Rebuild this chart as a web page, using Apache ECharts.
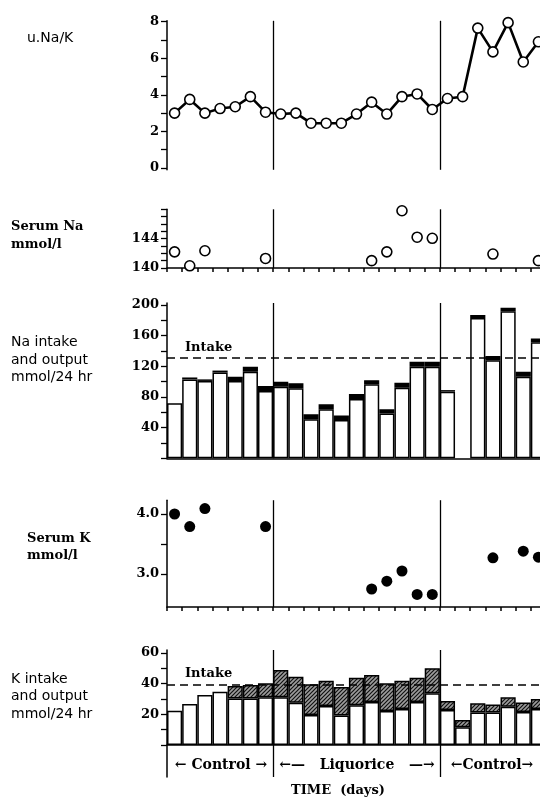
<!DOCTYPE html>
<html>
<head>
<meta charset="utf-8">
<script src="https://cdn.jsdelivr.net/npm/echarts@6/dist/echarts.min.js"></script>
<style>
  html, body { margin: 0; padding: 0; background: #fff; overflow: hidden; }
  /* a little wider than the window: the last day runs off the right edge */
  #main { width: 548px; height: 798px; }
</style>
</head>
<body>
<div id="main"></div>
<script>
  // 25 days: 7 control, 11 liquorice, 7 control (last one runs off the edge)
  var days = ['1', '2', '3', '4', '5', '6', '7', '8', '9', '10', '11', '12', '13',
    '14', '15', '16', '17', '18', '19', '20', '21', '22', '23', '24', '25']
  var periodEnds = [7, 18]
  var periods = ['Control', 'Liquorice', 'Control']

  // urine Na/K ratio
  var naKRatio = [3.0, 3.75, 3.0, 3.25, 3.35, 3.9, 3.05, 2.95, 3.0, 2.45, 2.45, 2.45, 2.95,
    3.6, 2.95, 3.9, 4.05, 3.2, 3.8, 3.9, 7.65, 6.35, 7.95, 5.8, 6.9]

  // serum Na, mmol/l  [day index, value]
  var serumNa = [[0, 142.2], [1, 140.3], [2, 142.35], [6, 141.3], [13, 141.0], [14, 142.2],
    [15, 147.8], [16, 144.2], [17, 144.05], [21, 141.9], [23, 139.8], [24, 141.0]]

  // Na output, mmol/24hr : urine (white) + other (black cap)
  var naUrine = [72, 103, 101, 112, 101, 113, 88, 93.5, 91.5, 51, 64, 50, 77.5,
    96.5, 58.5, 92, 119.5, 119.5, 87, '-', 183, 128, 192, 106.5, 151.5]
  var naOther = ['-', 2.5, 2, 2.5, 5.5, 6.5, 6.5, 6.5, 6.5, 6.5, 6.5, 6, 6.5,
    5.5, 5.5, 6.5, 6.5, 6.5, 2, '-', 4, 5.5, 4.5, 6.5, 5]
  var naIntake = 131

  // serum K, mmol/l  [day index, value]
  var serumK = [[0, 4.0], [1, 3.79], [2, 4.09], [6, 3.79], [13, 2.75], [14, 2.88],
    [15, 3.05], [16, 2.66], [17, 2.66], [21, 3.27], [23, 3.38], [24, 3.28]]

  // K output, mmol/24hr : urine (white) + other (hatched)
  var kUrine = [22.3, 26.7, 32.5, 34.7, 30.3, 30.3, 31, 31, 27.5, 19.5, 25.4, 19.2, 25.8,
    28, 22.1, 23.4, 28, 33.6, 22.8, 11.5, 21.2, 21.2, 24.9, 21.5, 23.4]
  var kOther = ['-', '-', '-', '-', 8.1, 8.7, 9.1, 17.8, 16.9, 20, 16.4, 18.5, 18,
    17.5, 18, 18.4, 15.8, 16.4, 5.8, 4.8, 5.9, 5.2, 6.1, 6.2, 6.5]
  var kIntake = 39.5

  var serif = 'DejaVu Serif'
  var sans = 'DejaVu Sans'

  // hatch fill for the K "other" part
  var hatch = document.createElement('canvas')
  hatch.width = 4
  hatch.height = 4
  var hc = hatch.getContext('2d')
  hc.fillStyle = '#9c9c9c'
  hc.fillRect(0, 0, 4, 4)
  hc.strokeStyle = '#111'
  hc.lineWidth = 1.2
  hc.beginPath()
  hc.moveTo(0, 4); hc.lineTo(4, 0)
  hc.moveTo(-1, 1); hc.lineTo(1, -1)
  hc.moveTo(3, 5); hc.lineTo(5, 3)
  hc.stroke()

  function range (a, b, step) {
    var out = []
    for (var v = a; v <= b + 1e-9; v += step) out.push(+v.toFixed(2))
    return out
  }

  var grids = [
    { left: 167, width: 379, top: 20.8, height: 149 },
    { left: 167, width: 379, top: 209.3, height: 58.7 },
    { left: 167, width: 379, top: 303, height: 155.3 },
    { left: 167, width: 379, top: 500.2, height: 106.8 },
    { left: 167, width: 379, top: 650, height: 127 }
  ]

  function xAxis (i, opts) {
    return {
      type: 'category',
      gridIndex: i,
      data: days,
      boundaryGap: true,
      axisLabel: { show: false },
      axisLine: { show: opts.line, onZero: true, lineStyle: { color: '#000', width: 1.5 } },
      axisTick: { show: opts.ticks, interval: 0, length: 4, inside: false, lineStyle: { color: '#000', width: 1.5 } },
      splitLine: {
        show: true,
        interval: function (idx) { return periodEnds.indexOf(idx) >= 0 },
        lineStyle: { color: '#000', width: 1.3 }
      }
    }
  }

  function yAxis (i, min, max, ticks, labels, fmt, lift) {
    return {
      type: 'value',
      gridIndex: i,
      min: min,
      max: max,
      axisLine: { show: true, lineStyle: { color: '#000', width: 1.5 } },
      axisTick: { show: true, customValues: ticks, length: 6, lineStyle: { color: '#000', width: 1.3 } },
      axisLabel: {
        customValues: labels,
        margin: 8,
        color: '#000',
        fontFamily: serif,
        fontWeight: 'bold',
        fontSize: 13,
        padding: [0, 0, lift || 0, 0],
        formatter: fmt || function (v) { return String(v) }
      },
      splitLine: { show: false }
    }
  }

  function intakeLine (x, y, value) {
    return {
      type: 'line',
      xAxisIndex: x,
      yAxisIndex: y,
      data: [],
      z: 1,
      silent: true,
      markLine: {
        silent: true,
        symbol: 'none',
        animation: false,
        lineStyle: { color: '#000', type: [8, 5], width: 1.5 },
        label: {
          show: true,
          position: 'insideStartTop',
          distance: [18, 4],
          formatter: 'Intake',
          color: '#000',
          fontFamily: serif,
          fontWeight: 'bold',
          fontSize: 13
        },
        data: [{ yAxis: value }]
      }
    }
  }

  var barStyle = { borderColor: '#000', borderWidth: 1.5 }

  function leftText (x, y, text, font) {
    return { type: 'text', left: x, top: y, style: { text: text, font: font, fill: '#000' } }
  }

  var sansFont = '14px ' + sans
  var serifFont = 'bold 13px ' + serif

  var chart = echarts.init(document.getElementById('main'))
  var option = {
    animation: false,
    backgroundColor: '#fff',
    grid: grids,
    xAxis: [
      xAxis(0, { line: false, ticks: false }),
      xAxis(1, { line: true, ticks: true }),
      xAxis(2, { line: true, ticks: false }),
      xAxis(3, { line: true, ticks: true }),
      xAxis(4, { line: true, ticks: false })
    ],
    yAxis: [
      yAxis(0, -0.1, 8.05, range(0, 8, 1), range(0, 8, 2), null, 4),
      yAxis(1, 140, 148, range(140, 148, 1), [140, 144], null, 6),
      yAxis(2, 0, 202.7, range(0, 200, 20), range(40, 200, 40)),
      yAxis(3, 2.45, 4.23, [3, 3.5, 4], [3, 4], function (v) { return v.toFixed(1) }),
      yAxis(4, -20.8, 61.8, range(0, 60, 10), [20, 40, 60])
    ],
    series: [
      {
        name: 'u.Na/K',
        type: 'line',
        xAxisIndex: 0,
        yAxisIndex: 0,
        data: naKRatio,
        symbol: 'circle',
        symbolSize: 10,
        showSymbol: true,
        showAllSymbol: true,
        lineStyle: { color: '#000', width: 2.6 },
        itemStyle: { color: '#fff', borderColor: '#000', borderWidth: 1.6 },
        z: 3
      },
      {
        name: 'Serum Na',
        type: 'scatter',
        xAxisIndex: 1,
        yAxisIndex: 1,
        data: serumNa,
        symbol: 'circle',
        symbolSize: 10,
        itemStyle: { color: '#fff', borderColor: '#000', borderWidth: 1.6, opacity: 1 },
        z: 3
      },
      intakeLine(2, 2, naIntake),
      {
        name: 'Na urine',
        type: 'bar',
        xAxisIndex: 2,
        yAxisIndex: 2,
        stack: 'na',
        data: naUrine,
        barCategoryGap: '0%',
        itemStyle: Object.assign({ color: '#fff' }, barStyle),
        z: 3
      },
      {
        name: 'Na other',
        type: 'bar',
        xAxisIndex: 2,
        yAxisIndex: 2,
        stack: 'na',
        data: naOther,
        barCategoryGap: '0%',
        itemStyle: Object.assign({ color: '#000' }, barStyle),
        z: 3
      },
      {
        name: 'Serum K',
        type: 'scatter',
        xAxisIndex: 3,
        yAxisIndex: 3,
        data: serumK,
        symbol: 'circle',
        symbolSize: 11,
        itemStyle: { color: '#000', opacity: 1 },
        z: 3
      },
      intakeLine(4, 4, kIntake),
      {
        name: 'K urine',
        type: 'bar',
        xAxisIndex: 4,
        yAxisIndex: 4,
        stack: 'k',
        data: kUrine,
        barCategoryGap: '0%',
        itemStyle: Object.assign({ color: '#fff' }, barStyle),
        z: 3
      },
      {
        name: 'K other',
        type: 'bar',
        xAxisIndex: 4,
        yAxisIndex: 4,
        stack: 'k',
        data: kOther,
        barCategoryGap: '0%',
        itemStyle: Object.assign({ color: { image: hatch, repeat: 'repeat' } }, barStyle),
        z: 3
      }
    ],
    graphic: [
      leftText(27, 31, 'u.Na/K', sansFont),
      leftText(11, 220, 'Serum Na', serifFont),
      leftText(11, 238, 'mmol/l', serifFont),
      leftText(11, 335, 'Na intake', sansFont),
      leftText(11, 353, 'and output', sansFont),
      leftText(11, 370, 'mmol/24 hr', sansFont),
      leftText(27, 532, 'Serum K', serifFont),
      leftText(27, 549, 'mmol/l', serifFont),
      leftText(11, 672, 'K intake', sansFont),
      leftText(11, 689, 'and output', sansFont),
      leftText(11, 707, 'mmol/24 hr', sansFont),
      { type: 'text', x: 221, y: 765, style: { text: '\u2190 ' + periods[0] + ' \u2192', font: 'bold 14px ' + serif, fill: '#000', align: 'center', verticalAlign: 'middle' } },
      { type: 'text', x: 357, y: 765, style: { text: '\u2190\u2014   ' + periods[1] + '   \u2014\u2192', font: 'bold 14px ' + serif, fill: '#000', align: 'center', verticalAlign: 'middle' } },
      { type: 'text', x: 492, y: 765, style: { text: '\u2190' + periods[2] + '\u2192', font: 'bold 14px ' + serif, fill: '#000', align: 'center', verticalAlign: 'middle' } },
      { type: 'text', x: 338, y: 791, style: { text: 'TIME  (days)', font: 'bold 13px ' + serif, fill: '#000', align: 'center', verticalAlign: 'middle' } }
    ]
  }
  chart.setOption(option)
</script>
</body>
</html>
